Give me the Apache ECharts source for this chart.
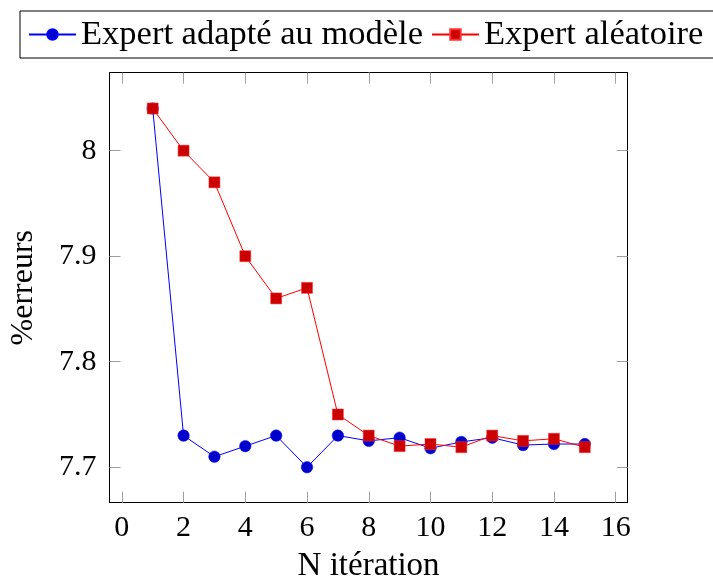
<!DOCTYPE html>
<html>
<head>
<meta charset="utf-8">
<script src="https://cdn.jsdelivr.net/npm/echarts@6/dist/echarts.min.js"></script>
<style>html,body{margin:0;padding:0;background:#fff}#c{width:713px;height:579px}</style>
</head>
<body>
<div id="c"></div>
<script>
const iterations = [1,2,3,4,5,6,7,8,9,10,11,12,13,14,15];
const expertAdapte = [8.04,7.730,7.710,7.720,7.730,7.700,7.730,7.725,7.728,7.718,7.724,7.728,7.721,7.722,7.722];
const expertAleatoire = [8.04,8.00,7.97,7.90,7.86,7.87,7.75,7.730,7.720,7.722,7.719,7.730,7.725,7.727,7.719];
const xTicks = [0,2,4,6,8,10,12,14,16];
const yTicks = [7.7,7.8,7.9,8.0];
const seriesNames = ['Expert adapté au modèle','Expert aléatoire'];

const FONT = 'Liberation Serif';
const chart = echarts.init(document.getElementById('c'), null, {renderer:'canvas'});
const tickStyle = {show:true, inside:true, length:11, lineStyle:{color:'#a0a0a0', width:1}};
const xr = [-0.4, 16.39], yr = [7.6664, 8.0739];
chart.setOption({
  animation:false,
  backgroundColor:'#fff',
  textStyle:{fontFamily:FONT},
  grid:{left:109.5, right:85.3, top:72.7, bottom:76.3, containLabel:false, outerBoundsMode:'none'},
  legend:{
    left:20, top:11, itemGap:8, itemWidth:47, itemHeight:13,
    width:760, orient:'horizontal',
    padding:[6,14,6,8],
    borderColor:'#000', borderWidth:1, borderRadius:0,
    textStyle:{fontFamily:FONT, fontSize:34.5, color:'#000'},
    data:seriesNames
  },
  xAxis:[
    {type:'value', min:xr[0], max:xr[1], position:'bottom',
     name:'N itération', nameLocation:'middle', nameGap:47,
     nameTextStyle:{fontFamily:FONT, fontSize:33, color:'#000'},
     axisLine:{show:true, onZero:false, lineStyle:{color:'#000', width:1}},
     axisTick:Object.assign({customValues:xTicks}, tickStyle),
     axisLabel:{customValues:xTicks, fontFamily:FONT, fontSize:30, color:'#000', margin:10},
     splitLine:{show:false}},
    {type:'value', min:xr[0], max:xr[1], position:'top',
     axisLine:{show:true, onZero:false, lineStyle:{color:'#000', width:1}},
     axisTick:Object.assign({customValues:xTicks}, tickStyle),
     axisLabel:{show:false}, splitLine:{show:false}}
  ],
  yAxis:[
    {type:'value', min:yr[0], max:yr[1], position:'left',
     name:'%erreurs', nameLocation:'middle', nameGap:70, nameRotate:90,
     nameTextStyle:{fontFamily:FONT, fontSize:32, color:'#000'},
     axisLine:{show:true, onZero:false, lineStyle:{color:'#000', width:1}},
     axisTick:Object.assign({customValues:yTicks}, tickStyle),
     axisLabel:{customValues:yTicks, fontFamily:FONT, fontSize:30, color:'#000', margin:13,
       formatter:v=>String(Math.round(v*10)/10)},
     splitLine:{show:false}},
    {type:'value', min:yr[0], max:yr[1], position:'right',
     axisLine:{show:true, onZero:false, lineStyle:{color:'#000', width:1}},
     axisTick:Object.assign({customValues:yTicks}, tickStyle),
     axisLabel:{show:false}, splitLine:{show:false}}
  ],
  series:[
    {name:seriesNames[0], type:'line', data:iterations.map((x,i)=>[x,expertAdapte[i]]),
     symbol:'circle', symbolSize:11.5,
     lineStyle:{color:'#0000ff', width:1}, itemStyle:{color:'#0000cc', borderColor:'#0000ff', borderWidth:0.5}, color:'#0000ff', z:2},
    {name:seriesNames[1], type:'line', data:iterations.map((x,i)=>[x,expertAleatoire[i]]),
     symbol:'rect', symbolSize:11,
     lineStyle:{color:'#ff0000', width:1}, itemStyle:{color:'#cc0000', borderColor:'#ff3030', borderWidth:0.5}, color:'#ff0000', z:3}
  ]
});
</script>
</body>
</html>
